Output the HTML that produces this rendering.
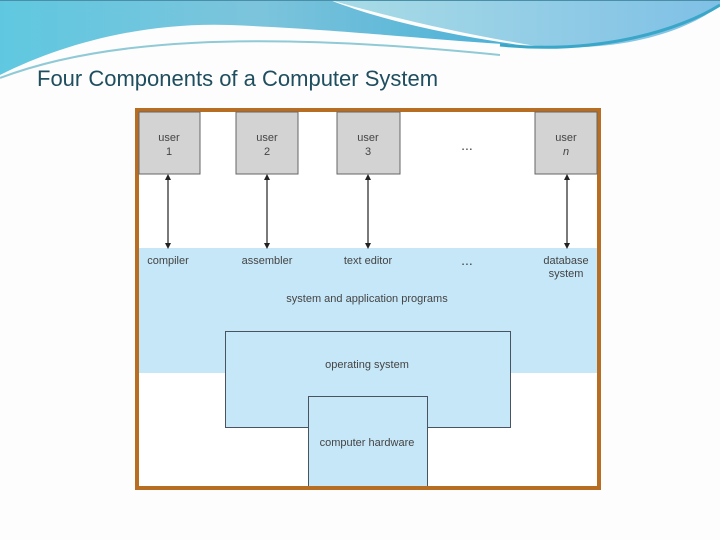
<!DOCTYPE html>
<html><head><meta charset="utf-8"><style>
html,body{margin:0;padding:0;background:#fff;}
svg{display:block;}
</style></head><body>
<svg width="720" height="540" viewBox="0 0 720 540" xmlns="http://www.w3.org/2000/svg" font-family="Liberation Sans, sans-serif">
<defs>
<linearGradient id="g1" x1="0" y1="0" x2="1" y2="0">
<stop offset="0" stop-color="#5fc8e0"/><stop offset="0.5" stop-color="#7cc4dc"/><stop offset="1" stop-color="#4ab0d6"/>
</linearGradient>
<linearGradient id="g2" x1="0" y1="0" x2="1" y2="0">
<stop offset="0" stop-color="#a9dce6"/><stop offset="1" stop-color="#7fc0e6"/>
</linearGradient>
<marker id="ah" markerWidth="6" markerHeight="6" refX="3" refY="3" orient="auto-start-reverse" markerUnits="userSpaceOnUse"><path d="M0,0 L6,3 L0,6 Z" fill="#222"/></marker>
</defs>
<rect width="720" height="540" fill="#fdfdfd"/>
<path d="M0,0 H330 C380,20 450,35 520,45 C430,40 350,30 230,25 C140,22 60,45 0,75 Z" fill="url(#g1)"/>
<path d="M330,0 H720 V5 C690,30 620,55 530,45 C470,35 400,20 330,0 Z" fill="url(#g2)"/>
<path d="M500,45 C600,55 680,30 720,5" stroke="#3aa6c8" stroke-width="3" fill="none"/>
<path d="M0,78 C100,40 250,30 500,55" stroke="#8fcad6" stroke-width="2" fill="none"/>
<path d="M0,0 H720" stroke="#4a8ea8" stroke-width="2"/>
<text x="37" y="86" font-size="22" fill="#1f4e5f" font-family="Liberation Sans, DejaVu Sans, sans-serif">Four Components of a Computer System</text>

<rect x="137" y="110" width="462" height="378" fill="#fff" stroke="#b86e22" stroke-width="4"/>
<rect x="139" y="248" width="458" height="125" fill="#c6e7f8"/>
<rect x="225.5" y="331.5" width="285" height="96" fill="#c6e7f8" stroke="#4a5460" stroke-width="1"/>
<rect x="308.5" y="396.5" width="119" height="91" fill="#c6e7f8" stroke="#4a5460" stroke-width="1"/>
<rect x="309" y="397" width="118" height="31" fill="#c6e7f8"/>
<rect x="137" y="486" width="462" height="4" fill="#b86e22"/>

<g fill="#d3d3d3" stroke="#666" stroke-width="1">
<rect x="139" y="112" width="61" height="62"/>
<rect x="236" y="112" width="62" height="62"/>
<rect x="337" y="112" width="63" height="62"/>
<rect x="535" y="112" width="62" height="62"/>
</g>
<g font-size="11" fill="#444" text-anchor="middle">
<text x="169" y="141">user</text><text x="169" y="155">1</text>
<text x="267" y="141">user</text><text x="267" y="155">2</text>
<text x="368" y="141">user</text><text x="368" y="155">3</text>
<text x="566" y="141">user</text><text x="566" y="155" font-style="italic">n</text>
<text x="467" y="150" font-size="14">...</text>
<text x="467" y="265" font-size="14">...</text>
<text x="168" y="264">compiler</text>
<text x="267" y="264">assembler</text>
<text x="368" y="264">text editor</text>
<text x="566" y="264">database</text>
<text x="566" y="277">system</text>
<text x="367" y="302">system and application programs</text>
<text x="367" y="368">operating system</text>
<text x="367" y="446">computer hardware</text>
</g>
<g stroke="#222" stroke-width="1.2" marker-start="url(#ah)" marker-end="url(#ah)">
<line x1="168" y1="177" x2="168" y2="246"/>
<line x1="267" y1="177" x2="267" y2="246"/>
<line x1="368" y1="177" x2="368" y2="246"/>
<line x1="567" y1="177" x2="567" y2="246"/>
</g>
</svg>
</body></html>
